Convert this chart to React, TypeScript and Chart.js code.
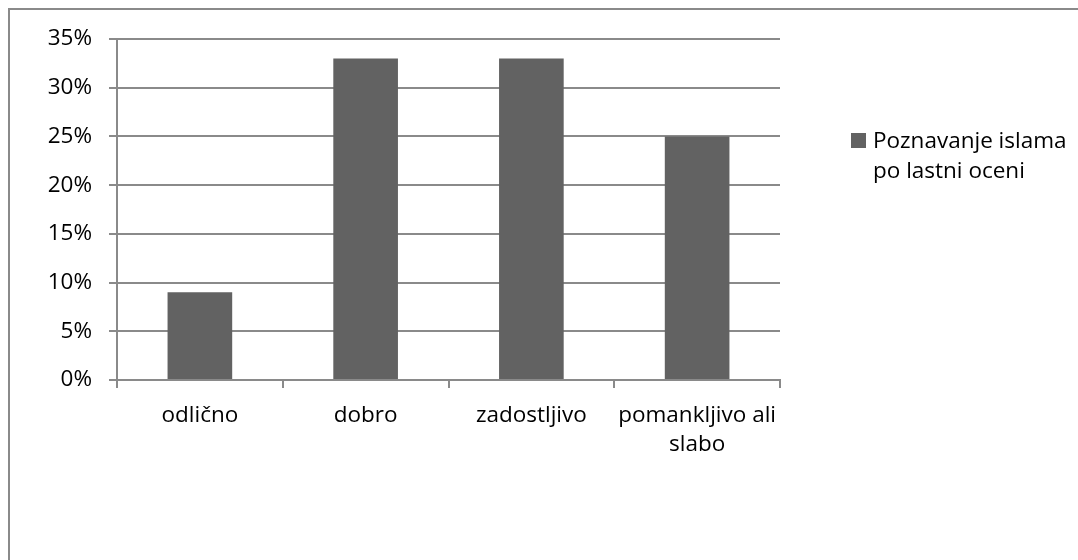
import React, { useEffect, useRef } from "react";
import { Chart, registerables } from "chart.js";

Chart.register(...registerables);

const categories: (string | string[])[] = ["odlično", "dobro", "zadostljivo", ["pomankljivo ali", "slabo"]];
const seriesName = ["Poznavanje islama", "po lastni oceni"];
const values = [9, 33, 33, 25];
const yTicks = [0, 5, 10, 15, 20, 25, 30, 35];

const FONT = "'Open Sans', 'DejaVu Sans', sans-serif";
const GRID = "#8a8a8a";
const BAR = "#626262";
const FS = 22.5;

export default function App() {
  const ref = useRef<HTMLCanvasElement | null>(null);

  useEffect(() => {
    if (!ref.current) return;
    const chart = new Chart(ref.current, {
      type: "bar",
      data: {
        labels: categories,
        datasets: [
          {
            label: seriesName.join(" "),
            data: values,
            backgroundColor: BAR,
            borderWidth: 0,
            barPercentage: 0.39,
            categoryPercentage: 1,
          },
        ],
      },
      options: {
        animation: false,
        responsive: false,
        maintainAspectRatio: false,
        layout: { padding: { top: 39, right: 298, bottom: 0, left: 0 } },
        plugins: { legend: { display: false }, tooltip: { enabled: false }, title: { display: false } },
        scales: {
          x: {
            type: "category",
            offset: true,
            grid: { offset: true, color: GRID, drawOnChartArea: false, drawTicks: true, tickLength: 8, lineWidth: 2 },
            border: { color: GRID, width: 2 },
            ticks: {
              color: "#000",
              font: { family: FONT, size: FS, lineHeight: 1.3 },
              maxRotation: 0,
              minRotation: 0,
              autoSkip: false,
              padding: 13,
            },
            afterFit: (s: any) => {
              s.height = 180;
            },
          },
          y: {
            min: 0,
            max: 35,
            afterBuildTicks: (s: any) => {
              s.ticks = yTicks.map((v) => ({ value: v }));
            },
            grid: { color: GRID, tickLength: 8, lineWidth: 2 },
            border: { color: GRID, width: 2 },
            ticks: {
              color: "#000",
              font: { family: FONT, size: FS },
              padding: 17,
              callback: (v: any) => v + "%",
            },
            afterFit: (s: any) => {
              s.width = 117;
            },
          },
        },
      },
    });
    return () => chart.destroy();
  }, []);

  return (
    <div style={{ position: "fixed", left: 0, top: 0, width: 1078, height: 560, overflow: "hidden", background: "#fff" }}>
      <div
        style={{
          position: "absolute",
          left: 8,
          top: 8,
          width: 1200,
          height: 800,
          border: "2px solid " + GRID,
          boxSizing: "border-box",
        }}
      />
      <canvas ref={ref} width={1078} height={560} style={{ position: "absolute", left: 0, top: 0, width: 1078, height: 560 }} />
      <div style={{ position: "absolute", left: 851, top: 133, width: 15, height: 15, background: BAR }} />
      <div
        style={{
          position: "absolute",
          left: 873,
          top: 125,
          fontFamily: FONT,
          fontSize: FS,
          lineHeight: "30px",
          color: "#000",
          whiteSpace: "nowrap",
        }}
      >
        {seriesName.map((l, i) => (
          <div key={i}>{l}</div>
        ))}
      </div>
    </div>
  );
}
